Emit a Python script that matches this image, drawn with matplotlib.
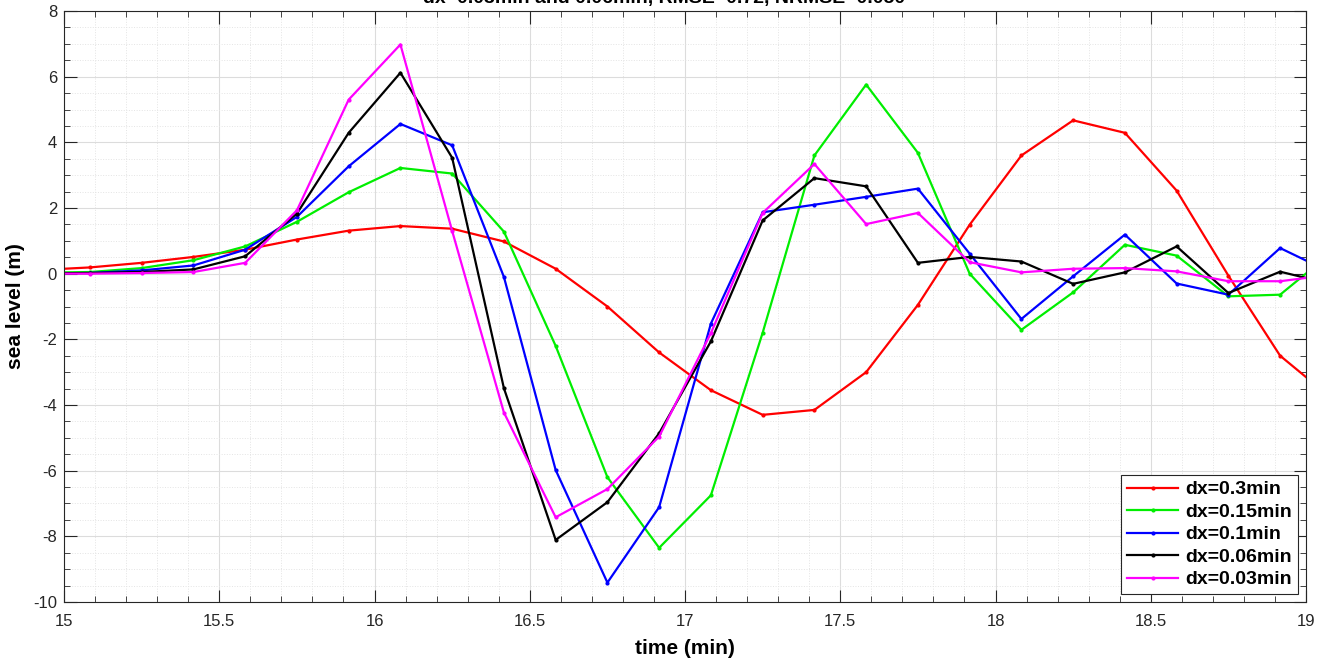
import numpy as np
import matplotlib.pyplot as plt
from matplotlib.ticker import MultipleLocator

plt.rcParams['font.family'] = ['Liberation Sans', 'DejaVu Sans']
plt.rcParams['axes.unicode_minus'] = False

# sample times (min), one every 10 s
t = 15 - 1/12 + np.arange(27) / 6

# sea level (m) for each grid spacing
h_03 = [0.11, 0.19, 0.33, 0.51, 0.73, 1.04, 1.31, 1.45, 1.37, 0.98, 0.15, -1.0, -2.4, -3.55,
        -4.3, -4.15, -3.0, -0.95, 1.49, 3.6, 4.67, 4.29, 2.53, -0.06, -2.5, -3.8, -4.5]
h_015 = [0.03, 0.05, 0.17, 0.41, 0.83, 1.58, 2.48, 3.22, 3.05, 1.28, -2.2, -6.2, -8.35, -6.75,
         -1.8, 3.6, 5.76, 3.68, 0.0, -1.71, -0.57, 0.88, 0.55, -0.69, -0.64, 0.65, 0.7]
h_01 = [0.01, 0.02, 0.10, 0.25, 0.73, 1.73, 3.27, 4.56, 3.91, -0.1, -5.98, -9.41, -7.11, -1.52,
        1.87, 2.10, 2.34, 2.59, 0.61, -1.38, -0.08, 1.19, -0.30, -0.64, 0.78, 0.02, 0.0]
h_006 = [0.01, 0.02, 0.05, 0.13, 0.53, 1.83, 4.29, 6.12, 3.53, -3.49, -8.11, -6.96, -4.86, -2.06,
         1.62, 2.91, 2.66, 0.33, 0.51, 0.37, -0.31, 0.04, 0.83, -0.59, 0.06, -0.32, 0.0]
h_003 = [0.0, 0.0, 0.02, 0.05, 0.33, 1.93, 5.30, 6.98, 1.3, -4.23, -7.42, -6.56, -4.96, -1.81,
         1.85, 3.34, 1.51, 1.85, 0.35, 0.04, 0.15, 0.17, 0.07, -0.23, -0.23, -0.03, 0.0]

series = [(h_03, '#ff0000', 'dx=0.3min'), (h_015, '#00ee00', 'dx=0.15min'),
          (h_01, '#0000ff', 'dx=0.1min'), (h_006, 'k', 'dx=0.06min'),
          (h_003, '#ff00ff', 'dx=0.03min')]

fig = plt.figure(figsize=(13.29, 6.64), dpi=100)
ax = fig.add_axes([0.0482, 0.0934, 0.9345, 0.89])

for y, c, lab in series:
    ax.plot(t, y, color=c, lw=1.6, marker='.', ms=4, label=lab)

ax.set_xlim(15, 19)
ax.set_ylim(-10, 8)
ax.xaxis.set_major_locator(MultipleLocator(0.5))
ax.xaxis.set_minor_locator(MultipleLocator(0.1))
ax.yaxis.set_major_locator(MultipleLocator(2))
ax.yaxis.set_minor_locator(MultipleLocator(0.5))
ax.xaxis.set_major_formatter(plt.FuncFormatter(lambda v, p: f'{v:g}'))
ax.grid(True, which='major', color='#dcdcdc', lw=0.8)
ax.grid(True, which='minor', color='#e4e4e4', lw=0.7, ls=':')
ax.tick_params(which='both', direction='in', top=True, right=True, labelsize=12, colors='#262626')
ax.tick_params(axis='x', which='major', pad=9)
ax.tick_params(axis='y', which='major', pad=5)
ax.tick_params(which='major', length=9)
ax.tick_params(which='minor', length=4.5)
for s in ax.spines.values():
    s.set_color('#262626')
    s.set_linewidth(0.8)

ax.set_xlabel('time (min)', fontsize=15, fontweight='bold', labelpad=7)
ax.set_ylabel('sea level (m)', fontsize=15, fontweight='bold', labelpad=6)
fig.text(0.5, 1.003, 'dx=0.03min and 0.06min, RMSE=0.72, NRMSE=0.050', ha='center', va='center',
         fontsize=14, fontweight='bold')

leg = ax.legend(loc='lower right', prop={'size': 14, 'weight': 'bold'}, fancybox=False,
                edgecolor='#262626', framealpha=1, handlelength=2.6, borderpad=0.3,
                labelspacing=0.25, handletextpad=0.4, borderaxespad=0.4)
leg.get_frame().set_linewidth(0.8)

fig.savefig('out.png', dpi=100)
